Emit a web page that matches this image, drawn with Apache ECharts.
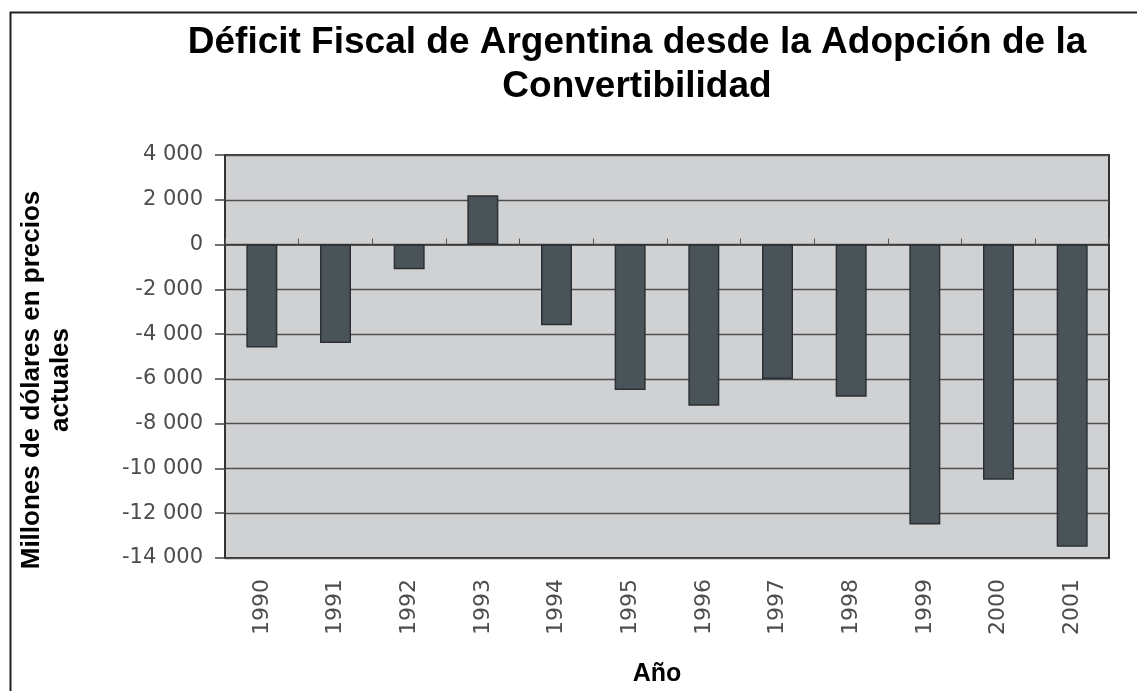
<!DOCTYPE html>
<html>
<head>
<meta charset="utf-8">
<script src="https://cdn.jsdelivr.net/npm/echarts@6/dist/echarts.min.js"></script>
<style>
html,body{margin:0;padding:0;background:#fff;}
#chart{width:1137px;height:691px;}
</style>
</head>
<body>
<div id="chart"></div>
<script>
const titleLines = ['Déficit Fiscal de Argentina desde la Adopción de la', 'Convertibilidad'];
const yAxisTitle = ['Millones de dólares en precios', 'actuales'];
const xAxisTitle = 'Año';
const years = ['1990','1991','1992','1993','1994','1995','1996','1997','1998','1999','2000','2001'];
const deficit = [-4600, -4400, -1100, 2200, -3600, -6500, -7200, -6000, -6800, -12500, -10500, -13500];
const yMin = -14000, yMax = 4000, yStep = 2000;

function fmt(v) {
  const s = Math.abs(v).toString().replace(/\B(?=(\d{3})+(?!\d))/g, ' ');
  return (v < 0 ? '-' : '') + s;
}

const chart = echarts.init(document.getElementById('chart'), null, {renderer: 'canvas'});
chart.setOption({
  animation: false,
  backgroundColor: '#ffffff',
  grid: {
    left: 225, right: 28, top: 155, bottom: 133,
    show: true, backgroundColor: '#d0d1d3', borderColor: '#333333', borderWidth: 2
  },
  xAxis: [{
    type: 'category',
    data: years,
    position: 'bottom',
    axisLine: {onZero: false, show: false},
    axisTick: {show: false},
    axisLabel: {
      rotate: 90, margin: 21, color: '#4d4d4d',
      fontFamily: 'DejaVu Sans', fontSize: 22
    },
    splitLine: {show: false}
  }, {
    type: 'category',
    data: years,
    axisLine: {onZero: true, show: true, lineStyle: {color: '#333333', width: 1.5}},
    axisTick: {show: true, length: 6, inside: false, lineStyle: {color: '#555555'}},
    axisLabel: {show: false},
    splitLine: {show: false}
  }],
  yAxis: {
    type: 'value',
    min: yMin, max: yMax, interval: yStep,
    axisLine: {show: true, lineStyle: {color: '#333333', width: 2}},
    axisTick: {show: true, length: 10, lineStyle: {color: '#444444', width: 1.5}},
    axisLabel: {
      margin: 22, color: '#4d4d4d', fontFamily: 'DejaVu Sans', fontSize: 21,
      formatter: fmt
    },
    splitLine: {show: true, lineStyle: {color: '#4f4f4f', width: 1.3}}
  },
  series: [{
    type: 'bar',
    data: deficit,
    xAxisIndex: 0,
    barWidth: 31,
    itemStyle: {color: '#4a5358', borderColor: '#2c3034', borderWidth: 1.5}
  }],
  graphic: [
    {
      type: 'rect', silent: true, z: 100,
      shape: {x: 10.5, y: 12.5, width: 1160, height: 720},
      style: {fill: 'none', stroke: '#222222', lineWidth: 2}
    },
    {
      type: 'text', x: 637, y: 43, z: 100,
      style: {
        text: titleLines[0], fill: '#000000',
        font: 'bold 37px "Liberation Sans", Arial, sans-serif',
        align: 'center', verticalAlign: 'middle'
      }
    },
    {
      type: 'text', x: 637, y: 87, z: 100,
      style: {
        text: titleLines[1], fill: '#000000',
        font: 'bold 37px "Liberation Sans", Arial, sans-serif',
        align: 'center', verticalAlign: 'middle'
      }
    },
    {
      type: 'text', x: 46, y: 380, rotation: Math.PI / 2, z: 100,
      style: {
        text: yAxisTitle.join('\n'), fill: '#000000',
        font: 'bold 26px "Liberation Sans", Arial, sans-serif',
        lineHeight: 29,
        align: 'center', verticalAlign: 'middle'
      }
    },
    {
      type: 'text', x: 657, y: 674, z: 100,
      style: {
        text: xAxisTitle, fill: '#000000',
        font: 'bold 25px "Liberation Sans", Arial, sans-serif',
        align: 'center', verticalAlign: 'middle'
      }
    }
  ]
});
</script>
</body>
</html>
